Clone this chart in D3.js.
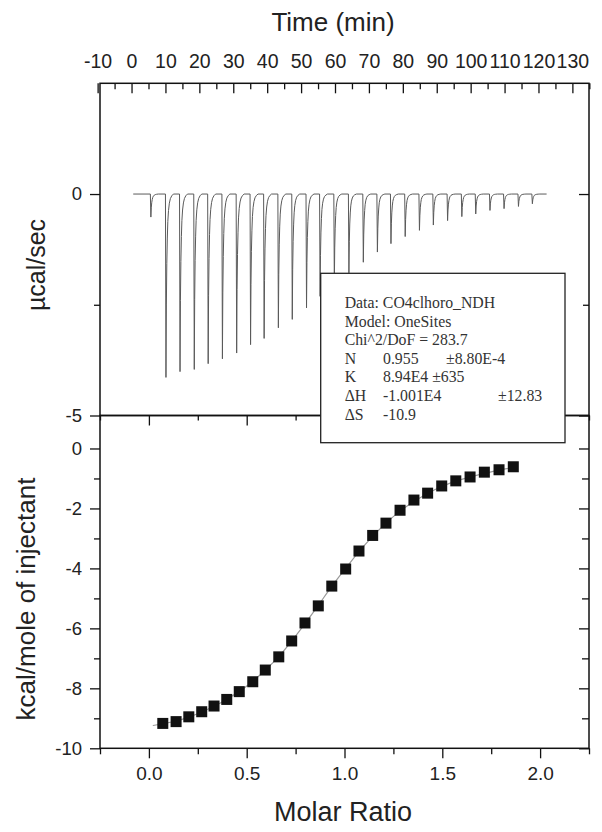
<!DOCTYPE html>
<html>
<head>
<meta charset="utf-8">
<script src="https://cdn.jsdelivr.net/npm/d3@7"></script>
<style>
  html, body { margin: 0; padding: 0; background: #fff; }
  svg { display: block; }
  .tick text { font-family: "Liberation Sans", Arial, sans-serif; fill: #222; }
  .tick line { stroke: #111; stroke-width: 1.3; }
</style>
</head>
<body>
<div id="chart"></div>
<script>
// ---------------- DATA ----------------
// Upper panel: raw thermogram (injection time in min, peak power in µcal/sec)
const injTimes = [5.7, 10.15, 14.3, 18.5, 22.6, 26.8, 31.0, 35.1, 39.1, 43.3, 47.4, 51.6, 55.6, 59.8,
                  64.1, 68.35, 72.5, 76.5, 80.7, 84.9, 89.0, 93.2, 97.4, 101.5, 105.7, 109.85, 114.1, 118.2];
const peakPower = [-0.52, -4.14, -4.01, -3.96, -3.83, -3.72, -3.59, -3.40, -3.26, -3.02, -2.83, -2.57, -2.31, -2.03,
                   -1.78, -1.54, -1.31, -1.12, -0.96, -0.82, -0.70, -0.60, -0.51, -0.45, -0.37, -0.33, -0.28, -0.22];
const baselineStart = 0.5, baselineEnd = 122.4;
// peak profile relative to the tip: [minutes after tip, fraction of peak depth]
const peakProfile = [[-0.15, 0], [0, 1], [0.12, 0.6], [0.25, 0.38], [0.4, 0.24], [0.55, 0.15], [0.75, 0.09],
                     [1.0, 0.05], [1.3, 0.025], [1.7, 0.01], [2.2, 0]];

// Lower panel: integrated heats
const molarRatio = [0.071, 0.139, 0.204, 0.270, 0.333, 0.398, 0.462, 0.531, 0.595, 0.664, 0.730, 0.798, 0.866, 0.935,
                    1.006, 1.074, 1.144, 1.212, 1.284, 1.355, 1.425, 1.497, 1.569, 1.642, 1.715, 1.790, 1.863];
const heat = [-9.17, -9.11, -8.95, -8.78, -8.59, -8.37, -8.11, -7.78, -7.39, -6.95, -6.42, -5.82, -5.25, -4.59,
              -4.02, -3.42, -2.90, -2.49, -2.06, -1.72, -1.49, -1.25, -1.08, -0.95, -0.79, -0.71, -0.61];
// fitted curve
const fitRatio = [0.02, 0.071, 0.139, 0.204, 0.270, 0.333, 0.398, 0.462, 0.531, 0.595, 0.664, 0.730, 0.798, 0.866, 0.935,
                  1.006, 1.074, 1.144, 1.212, 1.284, 1.355, 1.425, 1.497, 1.569, 1.642, 1.715, 1.790, 1.863];
const fitHeat = [-9.24, -9.18, -9.09, -8.96, -8.79, -8.59, -8.37, -8.10, -7.77, -7.39, -6.94, -6.42, -5.84, -5.23, -4.60,
                 -4.00, -3.44, -2.93, -2.49, -2.09, -1.77, -1.50, -1.27, -1.09, -0.95, -0.83, -0.72, -0.64];

// Axis ticks
const timeMajor = [-10, 0, 10, 20, 30, 40, 50, 60, 70, 80, 90, 100, 110, 120, 130];
const timeMinor = [-5, 5, 15, 25, 35, 45, 55, 65, 75, 85, 95, 105, 115, 125, 135];
const powerMajor = [0, -5];
const powerMinor = [-2.5];
const heatMajor = [-10, -8, -6, -4, -2, 0];
const heatMinor = [-9, -7, -5, -3, -1];
const ratioMajor = [0.0, 0.5, 1.0, 1.5, 2.0];
const ratioMinor = [-0.25, 0.25, 0.75, 1.25, 1.75, 2.25];

const legendLines = [
  ["Data: CO4clhoro_NDH"],
  ["Model: OneSites"],
  ["Chi^2/DoF = 283.7"],
  ["N", "0.955", "±8.80E-4"],
  ["K", "8.94E4 ±635"],
  ["ΔH", "-1.001E4", "±12.83"],
  ["ΔS", "-10.9"]
];

// ---------------- LAYOUT ----------------
const W = 602, H = 832;
const L = 100, R = 589, T = 83.3, M = 415.5, B = 748.3;

const svg = d3.select("#chart").append("svg").attr("width", W).attr("height", H);

const xTime = d3.scaleLinear().domain([-9.3, 134.9]).range([L, R]);
const yPow = d3.scaleLinear().domain([-5, 2.5]).range([M, T]);
const xRat = d3.scaleLinear().domain([-0.25, 2.25]).range([L, R]);
const yHeat = d3.scaleLinear().domain([-10, 1.1]).range([B, M]);

const fmtInt = d => String(d);
const fmt1 = d => d.toFixed(1);

function addAxis(axis, tx, ty, fontSize) {
  const g = svg.append("g").attr("transform", `translate(${tx},${ty})`).call(axis);
  g.select(".domain").remove();
  g.selectAll("text").style("font-size", fontSize + "px");
  return g;
}

// ---- upper panel: thermogram ----
const thermo = [[baselineStart, 0]];
injTimes.forEach((t0, i) => {
  peakProfile.forEach(([dt, f]) => thermo.push([t0 + dt, peakPower[i] * f]));
});
thermo.push([baselineEnd, 0]);

svg.append("path")
  .datum(thermo)
  .attr("d", d3.line().x(d => xTime(d[0])).y(d => yPow(d[1])))
  .attr("fill", "none")
  .attr("stroke", "#5a5a5a")
  .attr("stroke-width", 1);

// ---- lower panel: fit + points ----
svg.append("path")
  .datum(fitRatio.map((r, i) => [r, fitHeat[i]]))
  .attr("d", d3.line().curve(d3.curveMonotoneX).x(d => xRat(d[0])).y(d => yHeat(d[1])))
  .attr("fill", "none")
  .attr("stroke", "#999")
  .attr("stroke-width", 1.2);

const sq = 11;
svg.append("g").selectAll("rect")
  .data(molarRatio.map((r, i) => [r, heat[i]]))
  .join("rect")
  .attr("x", d => xRat(d[0]) - sq / 2)
  .attr("y", d => yHeat(d[1]) - sq / 2)
  .attr("width", sq).attr("height", sq)
  .attr("fill", "#111");

// ---- axes ----
// top time axis (ticks inward)
addAxis(d3.axisTop(xTime).tickValues(timeMinor).tickSize(-6).tickFormat(""), 0, T, 18);
addAxis(d3.axisTop(xTime).tickValues(timeMajor).tickSize(-10).tickPadding(15).tickFormat(fmtInt), 0, T, 19.5);

// upper left power axis (outward)
addAxis(d3.axisLeft(yPow).tickValues(powerMinor).tickSize(6).tickFormat(""), L, 0, 18.5);
addAxis(d3.axisLeft(yPow).tickValues(powerMajor).tickSize(10).tickPadding(8).tickFormat(fmtInt), L, 0, 18.5);
// upper right (inward)
addAxis(d3.axisRight(yPow).tickValues(powerMinor).tickSize(-6).tickFormat(""), R, 0, 17);
addAxis(d3.axisRight(yPow).tickValues(powerMajor).tickSize(-10).tickFormat(""), R, 0, 17);

// lower left heat axis
addAxis(d3.axisLeft(yHeat).tickValues(heatMinor).tickSize(6).tickFormat(""), L, 0, 18.5);
addAxis(d3.axisLeft(yHeat).tickValues(heatMajor).tickSize(10).tickPadding(8).tickFormat(fmtInt), L, 0, 18.5);
// lower right (inward)
addAxis(d3.axisRight(yHeat).tickValues(heatMinor).tickSize(-7).tickFormat(""), R, 0, 17);
addAxis(d3.axisRight(yHeat).tickValues(heatMajor).tickSize(-10).tickFormat(""), R, 0, 17);

// lower bottom ratio axis (outward)
addAxis(d3.axisBottom(xRat).tickValues(ratioMinor).tickSize(6).tickFormat(""), 0, B, 18);
addAxis(d3.axisBottom(xRat).tickValues(ratioMajor).tickSize(10).tickPadding(8).tickFormat(fmt1), 0, B, 19);
// lower top ratio ticks (inward, along separator)
addAxis(d3.axisTop(xRat).tickValues(ratioMinor).tickSize(-5).tickFormat(""), 0, M, 18);
addAxis(d3.axisTop(xRat).tickValues(ratioMajor).tickSize(-10).tickFormat(""), 0, M, 18);

// frames
svg.append("rect").attr("x", L).attr("y", T).attr("width", R - L).attr("height", M - T)
  .attr("fill", "none").attr("stroke", "#111").attr("stroke-width", 1.5);
svg.append("rect").attr("x", L).attr("y", M).attr("width", R - L).attr("height", B - M)
  .attr("fill", "none").attr("stroke", "#111").attr("stroke-width", 1.5);

// ---- legend box ----
const lg = svg.append("g");
lg.append("rect").attr("x", 320.7).attr("y", 273.3).attr("width", 244.3).attr("height", 169.4)
  .attr("fill", "#fff").attr("stroke", "#222").attr("stroke-width", 1.3);
const colX = [344.7, 383, 446];
legendLines.forEach((line, i) => {
  const yb = 308 + i * 18.6;
  line.forEach((txt, j) => {
    let x = colX[j];
    if (j === 2 && line[0] === "ΔH") x = 498;
    lg.append("text").attr("x", x).attr("y", yb).text(txt)
      .attr("font-family", "'Liberation Serif', 'Times New Roman', serif")
      .attr("font-size", 15.8).attr("fill", "#333");
  });
});

// ---- axis titles ----
const titleFont = "'Liberation Sans', Arial, sans-serif";
svg.append("text").attr("x", 333).attr("y", 31).attr("text-anchor", "middle")
  .attr("font-family", titleFont).attr("font-size", 26).attr("fill", "#222").text("Time (min)");
svg.append("text").attr("x", 343).attr("y", 821).attr("text-anchor", "middle")
  .attr("font-family", titleFont).attr("font-size", 27).attr("fill", "#222").text("Molar Ratio");
svg.append("text").attr("transform", "translate(45,265) rotate(-90)").attr("text-anchor", "middle")
  .attr("font-family", titleFont).attr("font-size", 25).attr("fill", "#222").text("µcal/sec");
svg.append("text").attr("transform", "translate(35,599) rotate(-90)").attr("text-anchor", "middle")
  .attr("font-family", titleFont).attr("font-size", 26).attr("fill", "#222").text("kcal/mole of injectant");
</script>
</body>
</html>
